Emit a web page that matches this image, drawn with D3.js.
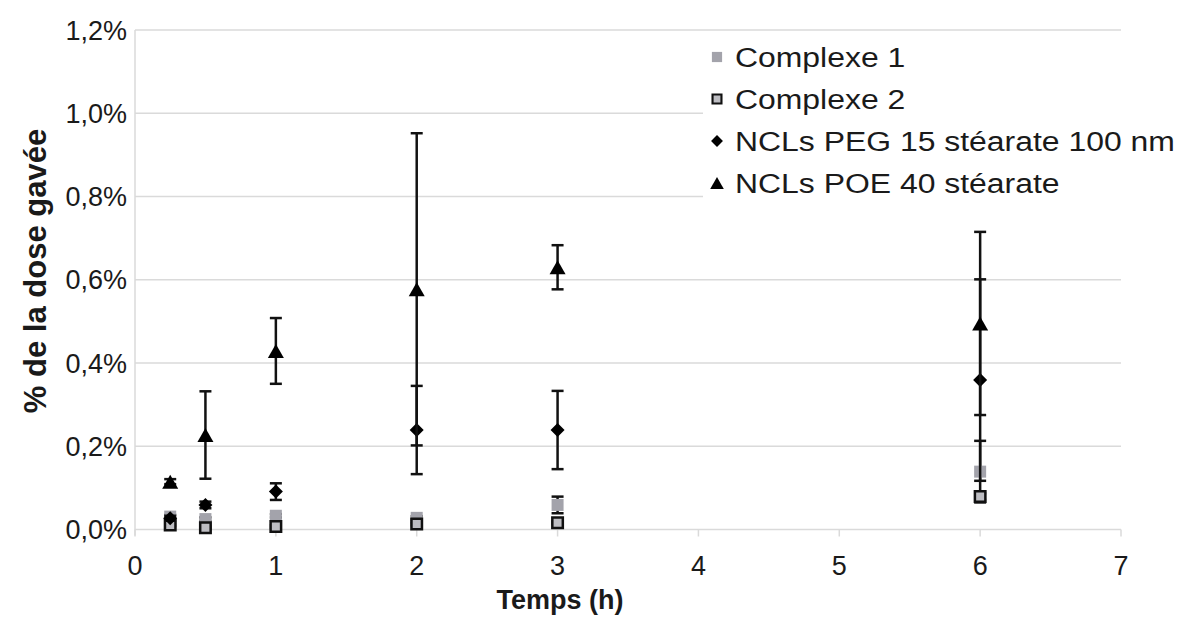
<!DOCTYPE html>
<html>
<head>
<meta charset="utf-8">
<script src="https://cdn.jsdelivr.net/npm/d3@7"></script>
<style>
  body { margin: 0; background: #fff; }
  text { font-family: "Liberation Sans", Arial, sans-serif; fill: #1a1a1a; }
</style>
</head>
<body>
<div id="chart"></div>
<script>
// time points (h)
var times = [0.25, 0.5, 1, 2, 3, 6];

// % of gavage dose, with error bars
var complexe1 = [0.031, 0.025, 0.033, 0.028, 0.059, 0.139];
var complexe1Err = [0.004, 0.004, 0.004, 0.004, 0.020, 0.074];
var complexe2 = [0.011, 0.004, 0.007, 0.013, 0.016, 0.079];
var complexe2Err = [0.003, 0.003, 0.003, 0.003, 0.003, 0.008];
var peg15 = [0.027, 0.059, 0.091, 0.239, 0.239, 0.359];
var peg15Err = [0.006, 0.008, 0.020, 0.106, 0.094, 0.242];
var poe40 = [0.115, 0.227, 0.429, 0.577, 0.630, 0.495];
var poe40Err = [0.006, 0.105, 0.079, 0.375, 0.053, 0.220];

var seriesNames = ["Complexe 1", "Complexe 2", "NCLs PEG 15 stéarate 100 nm", "NCLs POE 40 stéarate"];
var yTicks = [0, 0.2, 0.4, 0.6, 0.8, 1.0, 1.2];
var xTicks = [0, 1, 2, 3, 4, 5, 6, 7];

var width = 1186, height = 617;
var plotLeft = 135, plotRight = 1121, plotTop = 30, plotBottom = 529.5;

var svg = d3.select("#chart").append("svg").attr("width", width).attr("height", height);

var x_scale = d3.scaleLinear().domain([0, 7]).range([plotLeft, plotRight]);
var y_scale = d3.scaleLinear().domain([0, 1.2]).range([plotBottom, plotTop]);

// marker shapes
function square(s) { return "M" + (-s / 2) + "," + (-s / 2) + "h" + s + "v" + s + "h" + (-s) + "Z"; }
function diamond(r) { return "M0," + (-r) + "L" + r + ",0L0," + r + "L" + (-r) + ",0Z"; }
function triangle(w, h) { return "M0," + (-h / 2) + "L" + (w / 2) + "," + (h / 2) + "L" + (-w / 2) + "," + (h / 2) + "Z"; }

var series = [
    { name: seriesNames[0], values: complexe1, errs: complexe1Err, path: square(12), fill: "#a3a3ab", stroke: "none", sw: 0 },
    { name: seriesNames[1], values: complexe2, errs: complexe2Err, path: square(10.5), fill: "#bdbdc2", stroke: "#111", sw: 2.5 },
    { name: seriesNames[2], values: peg15, errs: peg15Err, path: diamond(7), fill: "#000", stroke: "none", sw: 0 },
    { name: seriesNames[3], values: poe40, errs: poe40Err, path: triangle(16, 14), fill: "#000", stroke: "none", sw: 0 }
];

// gridlines
svg.append("g").selectAll("line").data(yTicks).enter().append("line")
    .attr("x1", plotLeft).attr("x2", plotRight)
    .attr("y1", function (d) { return y_scale(d); }).attr("y2", function (d) { return y_scale(d); })
    .attr("stroke", "#dadada").attr("stroke-width", 1.5);

// y axis line
svg.append("line").attr("x1", plotLeft).attr("x2", plotLeft).attr("y1", plotTop).attr("y2", plotBottom + 6)
    .attr("stroke", "#dadada").attr("stroke-width", 1.5);

// x tick marks
svg.append("g").selectAll("line").data(xTicks).enter().append("line")
    .attr("x1", function (d) { return x_scale(d); }).attr("x2", function (d) { return x_scale(d); })
    .attr("y1", plotBottom).attr("y2", plotBottom + 7)
    .attr("stroke", "#dadada").attr("stroke-width", 1.5);

// tick labels
svg.append("g").selectAll("text").data(yTicks).enter().append("text")
    .attr("x", plotLeft - 8).attr("y", function (d) { return y_scale(d); })
    .attr("dy", "0.36em").attr("text-anchor", "end").style("font-size", "27px")
    .text(function (d) { return d3.format(".1f")(d).replace(".", ",") + "%"; });

svg.append("g").selectAll("text").data(xTicks).enter().append("text")
    .attr("x", function (d) { return x_scale(d); }).attr("y", 575)
    .attr("text-anchor", "middle").style("font-size", "27px")
    .text(function (d) { return d; });

// legend box hides the gridlines behind it
svg.append("rect").attr("x", 703).attr("y", 36).attr("width", 418).attr("height", 168).attr("fill", "#fff");

// series: error bars then markers
series.forEach(function (s) {
    var g = svg.append("g");
    var pts = times.map(function (t, i) { return { t: t, v: s.values[i], e: s.errs[i] }; });
    var eb = g.selectAll(".eb").data(pts).enter().append("g").attr("stroke", "#111").attr("stroke-width", 2.5);
    eb.append("line")
        .attr("x1", function (d) { return x_scale(d.t); }).attr("x2", function (d) { return x_scale(d.t); })
        .attr("y1", function (d) { return y_scale(d.v + d.e); }).attr("y2", function (d) { return y_scale(d.v - d.e); });
    [1, -1].forEach(function (sign) {
        eb.append("line")
            .attr("x1", function (d) { return x_scale(d.t) - 6; }).attr("x2", function (d) { return x_scale(d.t) + 6; })
            .attr("y1", function (d) { return y_scale(d.v + sign * d.e); }).attr("y2", function (d) { return y_scale(d.v + sign * d.e); });
    });
    g.selectAll("path").data(pts).enter().append("path")
        .attr("d", s.path)
        .attr("transform", function (d) { return "translate(" + x_scale(d.t) + "," + y_scale(d.v) + ")"; })
        .attr("fill", s.fill).attr("stroke", s.stroke).attr("stroke-width", s.sw);
});

// legend
var legend = svg.append("g").selectAll("g").data(series).enter().append("g")
    .attr("transform", function (d, i) { return "translate(717," + (57 + i * 42) + ")"; });
legend.append("path").attr("d", function (d) { return d.path; })
    .attr("transform", "scale(0.85)")
    .attr("fill", function (d) { return d.fill; }).attr("stroke", function (d) { return d.stroke; })
    .attr("stroke-width", function (d) { return d.sw; });
legend.append("text")
    .attr("transform", "translate(18,0) scale(1.14,1)")
    .attr("dy", "0.36em").style("font-size", "28px")
    .text(function (d) { return d.name; });

// axis titles
svg.append("text").attr("x", 560).attr("y", 599).attr("dy", "0.36em")
    .attr("text-anchor", "middle").style("font-size", "27px").style("font-weight", "bold")
    .text("Temps (h)");
svg.append("text").attr("transform", "translate(35,271) rotate(-90)").attr("dy", "0.36em")
    .attr("text-anchor", "middle").style("font-size", "31px").style("font-weight", "bold")
    .text("% de la dose gavée");
</script>
</body>
</html>
